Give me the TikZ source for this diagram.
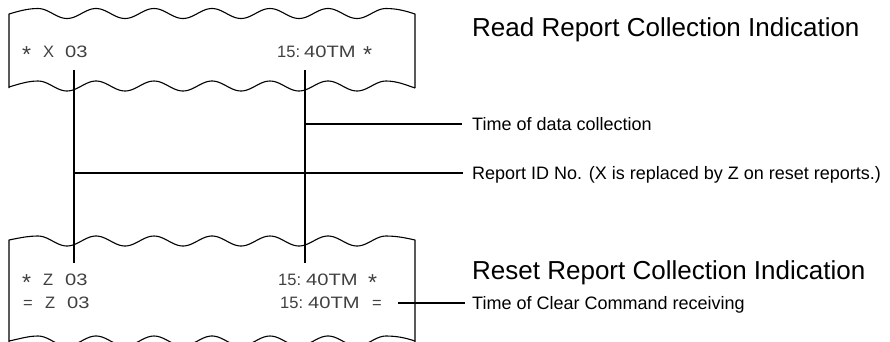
\documentclass[tikz,border=0pt]{standalone}
\usepackage{graphicx}
\usepackage{fontspec}
\setmainfont{Liberation Sans}
\newcommand\wdigits[1]{\scalebox{1.22}[1]{#1}}
\newcommand\midast{\raisebox{-5.5pt}{\scalebox{1.4}{*}}}
\begin{document}
\begin{tikzpicture}[x=1pt,y=-1pt,
  conn/.style={line width=1.1pt, black},
  slipline/.style={line width=1.1pt, black, line join=round},
  slip/.style={inner sep=0pt, anchor=base west, text=black!75, font=\fontsize{16.5}{18}\selectfont},
  heading/.style={inner sep=0pt, anchor=base west, font=\fontsize{26}{30}\selectfont},
  lbl/.style={inner sep=0pt, anchor=base west, font=\fontsize{18}{22}\selectfont},
]
\useasboundingbox (0,0) rectangle (890,341);
\clip (0,0) rectangle (890,341);

% ---- upper slip ----
\draw[slipline] (9,88) -- (9,14) .. controls (19,11) and (28,8.5) .. (38,8.5)
  -- plot[domain=38:386,samples=160] (\x,{13.5-5*cos(6.2069*(\x-38))})
  .. controls (397,8.5) and (406,11) .. (415,14) -- (415,88);
\draw[slipline] (9,87) .. controls (19,84) and (28,81) .. (38,81)
  -- plot[domain=38:386,samples=160] (\x,{86-5*cos(6.2069*(\x-38))})
  .. controls (397,81) and (406,85) .. (415,88);

% ---- lower slip ----
\draw[slipline] (9,346) -- (9,240) .. controls (19,238) and (28,236) .. (38,236)
  -- plot[domain=38:386,samples=160] (\x,{241-5*cos(6.2069*(\x-38))})
  .. controls (397,236) and (406,238) .. (415,240) -- (415,346);
\draw[slipline] (9,341) .. controls (19,339) and (28,336) .. (38,336)
  -- plot[domain=38:386,samples=160] (\x,{341-5*cos(6.2069*(\x-38))})
  .. controls (397,336) and (406,338) .. (415,341);

% ---- slip texts ----
\node[slip] (u1) at (22,57) {\midast};
\node[slip] (u2) at (43,57) {X};
\node[slip] (u3) at (65,57) {\wdigits{03}};
\node[slip] (u4) at (277,57) {15:};
\node[slip] (u5) at (304,57) {\wdigits{40TM}};
\node[slip] (u6) at (363,57) {\midast};

\node[slip] (a1) at (22,285) {\midast};
\node[slip] (a2) at (43,285) {Z};
\node[slip] (a3) at (65,285) {\wdigits{03}};
\node[slip] (a4) at (278,285) {15:};
\node[slip] (a5) at (306,285) {\wdigits{40TM}};
\node[slip] (a6) at (368,285) {\midast};

\node[slip] (b1) at (23,308) {=};
\node[slip] (b2) at (45,308) {Z};
\node[slip] (b3) at (67,308) {\wdigits{03}};
\node[slip] (b4) at (280,308) {15:};
\node[slip] (b5) at (308,308) {\wdigits{40TM}};
\node[slip] (b6) at (372,308) {=};

% ---- headings and labels ----
\node[heading] (tRead) at (472,36) {Read Report Collection Indication};
\node[heading] (tReset) at (472,279) {Reset Report Collection Indication};

\node[lbl] (lTime) at (472,130.5) {Time of data collection};
\node[lbl] (lId) at (472,179.5) {Report ID No. (X is replaced by Z on reset reports.)};
\node[lbl] (lClr) at (472,309.5) {Time of Clear Command receiving};

% ---- connectors ----
\coordinate (idTop) at (74,70);
\coordinate (idBot) at (74,263);
\coordinate (tmTop) at (305,70);
\coordinate (tmBot) at (305,263);
\coordinate (tmJ) at (305,124);
\coordinate (idJ) at (74,173);
\coordinate (clrJ) at (398,303);

\draw[conn] (idTop) -- (idBot);
\draw[conn] (tmTop) -- (tmBot);
\draw[conn, shorten >=10pt] (tmJ) -- (tmJ -| lTime.west);
\draw[conn, shorten >=9pt] (idJ) -- (idJ -| lId.west);
\draw[conn, shorten >=7pt] (clrJ) -- (clrJ -| lClr.west);
\end{tikzpicture}
\end{document}
